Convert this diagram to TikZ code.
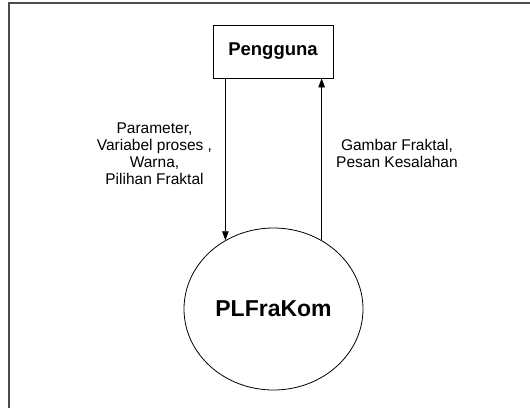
\documentclass[tikz,border=0pt]{standalone}
\usepackage{fontspec}
\setmainfont{Liberation Sans}
\usepackage{tikz}
\usetikzlibrary{arrows.meta}
\usetikzlibrary{shapes.geometric}
\usetikzlibrary{positioning}
\tikzstyle{line} = [draw, line width=0.8pt, -{Triangle[length=9pt,width=6.5pt]}]

\begin{document}
\begin{tikzpicture}[x=1pt, y=-1pt,
	entity/.style={draw, line width=0.8pt, minimum width=120pt, minimum height=53pt, inner sep=0pt, font=\fontsize{18.5}{22}\selectfont\bfseries},
	process/.style={draw, ellipse, line width=0.8pt, minimum width=179pt, minimum height=162pt, inner sep=0pt, font=\fontsize{23}{27}\selectfont\bfseries},
	flow/.style={align=center, inner sep=0pt, font=\fontsize{15.5}{17}\selectfont}]
	\useasboundingbox (0,0) rectangle (530,408);
	\draw[gray!60!black, line width=1.2pt] (530,3) -- (9,3) -- (9,408);

	\node[entity] (user) at (273,51.5) {Pengguna};
	\node[process] (plfrakom) at (273.5,309) {PLFraKom};

	\draw[line] (user.south -| plfrakom.125.5) -- (plfrakom.125.5);
	\node[flow] (input) at (154.5,154) {Parameter,\\Variabel proses ,\\Warna,\\Pilihan Fraktal};

	\draw[line] (plfrakom.55) -- (user.south -| plfrakom.55);
	\node[flow] (output) at (397,153) {Gambar Fraktal,\\Pesan Kesalahan};
\end{tikzpicture}
\end{document}
